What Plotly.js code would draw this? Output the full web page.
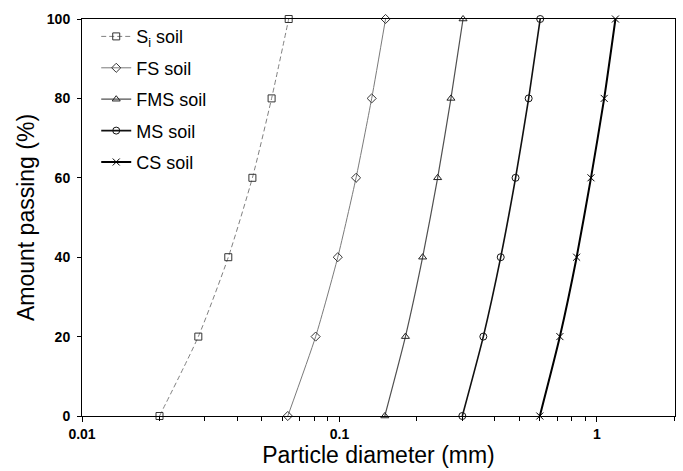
<!DOCTYPE html>
<html>
<head>
<meta charset="utf-8">
<script src="https://cdn.plot.ly/plotly-3.0.1.min.js"></script>
<style>html,body{margin:0;padding:0;background:#fff;}#chart{width:683px;height:471px;}</style>
</head>
<body>
<div id="chart"></div>
<script>
// Amount passing (%) levels
const passing = [0, 20, 40, 60, 80, 100];
// Particle diameters (mm) for each soil at those passing levels
const siSoil  = [0.020, 0.0283, 0.0370, 0.0459, 0.0545, 0.0635];
const fsSoil  = [0.063, 0.0808, 0.0985, 0.116, 0.1334, 0.151];
const fmsSoil = [0.150, 0.1804, 0.2104, 0.2406, 0.271, 0.302];
const msSoil  = [0.300, 0.362, 0.423, 0.483, 0.543, 0.602];
const csSoil  = [0.600, 0.718, 0.834, 0.948, 1.067, 1.18];
const seriesNames = ['S<sub>i</sub> soil', 'FS soil', 'FMS soil', 'MS soil', 'CS soil'];
const xTickVals = [0.01, 0.1, 1];
const xTickText = ['0.01', '0.1', '1'];
const yTickVals = [0, 20, 40, 60, 80, 100];

const FONT = 'Liberation Sans, Arial, Helvetica, sans-serif';

function tr(x, name, lineColor, lineWidth, dash, symbol, mColor, grp) {
  return {
    x: x, y: passing, name: name, type: 'scatter', mode: 'lines+markers',
    legendgroup: grp, cliponaxis: false,
    line: {color: lineColor, width: lineWidth, dash: dash, shape: 'spline', smoothing: 0.6},
    marker: {symbol: symbol, size: 7, color: mColor, line: {color: mColor, width: 1}}
  };
}

const data = [
  tr(siSoil,  seriesNames[0], '#808080', 1,   '5px,3px', 'square-open',      '#333333', 'a'),
  tr(fsSoil,  seriesNames[1], '#7a7a7a', 1,   'solid',   'diamond-open',     '#333333', 'b'),
  tr(fmsSoil, seriesNames[2], '#505050', 1.2, 'solid',   'triangle-up-open', '#222222', 'c'),
  tr(msSoil,  seriesNames[3], '#111111', 1.6, 'solid',   'circle-open',      '#111111', 'd'),
  tr(csSoil,  seriesNames[4], '#000000', 2,   'solid',   'x-thin-open',      '#000000', 'e')
];

const layout = {
  width: 683, height: 471,
  margin: {l: 82, r: 8, t: 19, b: 55, pad: 0},
  paper_bgcolor: '#ffffff', plot_bgcolor: '#ffffff',
  font: {family: FONT, color: '#000'},
  showlegend: true,
  legend: {
    x: 0.024, y: 1.002, xanchor: 'left', yanchor: 'top',
    bgcolor: 'rgba(0,0,0,0)', borderwidth: 0,
    font: {family: FONT, size: 18, color: '#000'},
    tracegroupgap: 5, itemwidth: 30
  },
  xaxis: {
    type: 'log', range: [-2, Math.log10(2.01)],
    tickmode: 'array', tickvals: xTickVals, ticktext: xTickText,
    ticks: 'outside', ticklen: 5, tickwidth: 1, tickcolor: '#000',
    minor: {ticks: 'outside', ticklen: 4, tickcolor: '#000', dtick: 'D1', showgrid: false},
    showgrid: false, zeroline: false,
    showline: true, mirror: true, linecolor: '#000', linewidth: 1,
    tickfont: {family: FONT, size: 14, color: '#000', weight: 'bold'},
    title: {text: 'Particle diameter (mm)', font: {family: FONT, size: 23, color: '#000'}, standoff: 6}
  },
  yaxis: {
    range: [0, 100], tickmode: 'array', tickvals: yTickVals,
    ticks: 'outside', ticklen: 4, tickwidth: 1, tickcolor: '#000',
    showgrid: false, zeroline: false,
    showline: true, mirror: true, linecolor: '#000', linewidth: 1,
    tickfont: {family: FONT, size: 14, color: '#000', weight: 'bold'},
    ticklabelstandoff: 4,
    title: {text: 'Amount passing (%)', font: {family: FONT, size: 23, color: '#000'}, standoff: 5}
  }
};

Plotly.newPlot('chart', data, layout, {displayModeBar: false, staticPlot: true});
</script>
</body>
</html>
